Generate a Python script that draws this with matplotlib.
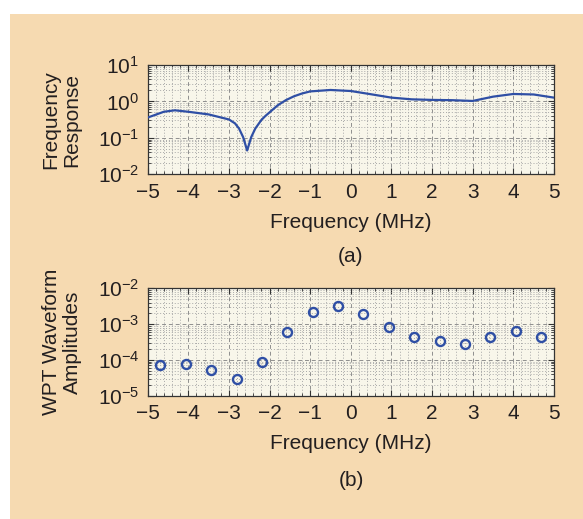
import matplotlib
matplotlib.use("Agg")
import matplotlib.pyplot as plt
import numpy as np
from matplotlib.ticker import LogLocator, MultipleLocator, NullFormatter

plt.rcParams['font.family'] = ['Liberation Sans', 'DejaVu Sans']
plt.rcParams['mathtext.fontset'] = 'custom'
plt.rcParams['mathtext.rm'] = 'Liberation Sans'
plt.rcParams['mathtext.it'] = 'Liberation Sans:italic'
plt.rcParams['axes.unicode_minus'] = True

# Panel (a): frequency response curve
resp_freq = [-5, -4.6, -4.33, -4, -3.5, -3, -2.85, -2.75, -2.65, -2.55, -2.45, -2.35,
             -2.2, -2.1, -2, -1.8, -1.6, -1.4, -1.2, -1, -0.5, 0, 0.5, 1, 1.5, 2, 2.5,
             3, 3.5, 4, 4.5, 5]
resp_val = [0.36, 0.52, 0.57, 0.52, 0.44, 0.32, 0.25, 0.18, 0.105, 0.045, 0.105,
            0.18, 0.31, 0.4, 0.5, 0.78, 1.08, 1.38, 1.65, 1.88, 2.06, 1.93, 1.57, 1.27,
            1.14, 1.1, 1.08, 1.03, 1.35, 1.6, 1.55, 1.27]

# Panel (b): WPT waveform amplitudes
wpt_freq = [-4.6875, -4.0625, -3.4375, -2.8125, -2.1875, -1.5625, -0.9375, -0.3125,
            0.3125, 0.9375, 1.5625, 2.1875, 2.8125, 3.4375, 4.0625, 4.6875]
wpt_amp = [7.2e-5, 7.5e-5, 5.2e-5, 2.9e-5, 8.5e-5, 5.9e-4, 2.14e-3, 3.27e-3,
           1.87e-3, 8.1e-4, 4.35e-4, 3.3e-4, 2.84e-4, 4.35e-4, 6.4e-4, 4.35e-4]

xticks = [-5, -4, -3, -2, -1, 0, 1, 2, 3, 4, 5]
xtick_labels = ['\u22125', '\u22124', '\u22123', '\u22122', '\u22121', '0', '1', '2', '3', '4', '5']

BG = '#F6DAB1'
AXBG = '#F8F6EA'
BLUE = '#2F4FA5'
TXT = '#231F20'
FS = 15

fig = plt.figure(figsize=(5.83, 5.19), dpi=100)
fig.patch.set_facecolor('white')
fig.patches.append(plt.Rectangle((10 / 583, 0), 1, 1 - 14 / 519,
                                 transform=fig.transFigure, facecolor=BG,
                                 edgecolor='none', zorder=-10))

axa = fig.add_axes([0.2532, 0.6642, 0.697, 0.2106])
axb = fig.add_axes([0.2532, 0.2376, 0.697, 0.2069])


def style(ax, ylo, yhi):
    ax.set_facecolor(AXBG)
    ax.set_yscale('log')
    ax.set_xlim(-5, 5)
    ax.set_ylim(ylo, yhi)
    ax.set_xticks(xticks)
    ax.set_xticklabels(xtick_labels)
    ax.xaxis.set_minor_locator(MultipleLocator(0.2))
    ax.yaxis.set_major_locator(LogLocator(base=10, numticks=10))
    ax.yaxis.set_minor_locator(LogLocator(base=10, subs=np.arange(2, 10), numticks=20))
    ax.yaxis.set_minor_formatter(NullFormatter())
    ax.grid(True, which='major', linestyle=(0, (4, 3)), color='#8f8f8f', linewidth=0.7)
    ax.grid(True, which='minor', linestyle=(0, (1, 2)), color='#a8a8a8', linewidth=0.7)
    ax.set_axisbelow(True)
    ax.tick_params(which='both', direction='in', top=True, right=True,
                   labelsize=FS, colors='#333333', labelcolor=TXT)
    ax.tick_params(which='major', length=4, pad=6)
    ax.tick_params(which='minor', length=2)
    for s in ax.spines.values():
        s.set_color('#333333')
        s.set_linewidth(0.9)
    ax.set_xlabel('Frequency (MHz)', fontsize=FS, color=TXT, labelpad=8)


style(axa, 1e-2, 1e1)
axa.plot(resp_freq, resp_val, color=BLUE, linewidth=1.6, zorder=3)

style(axb, 1e-5, 1e-2)
axb.plot(wpt_freq, wpt_amp, linestyle='none', marker='o', markersize=6.5,
         markerfacecolor='none', markeredgecolor=BLUE, markeredgewidth=1.7, zorder=3)

fig.text(61 / 583, 1 - 120 / 519, 'Frequency\nResponse', rotation=90, ha='center',
         va='center', fontsize=FS, color=TXT, linespacing=1.15)
fig.text(62 / 583, 1 - 342 / 519, 'WPT Waveform\nAmplitudes', rotation=90, ha='center',
         va='center', fontsize=FS, color=TXT, linespacing=1.15)

fig.text(351 / 583, 1 - 256 / 519, '(a)', ha='center', va='center', fontsize=FS, color=TXT)
fig.text(351 / 583, 1 - 480 / 519, '(b)', ha='center', va='center', fontsize=FS, color=TXT)

fig.savefig('out.png', dpi=100, facecolor=fig.get_facecolor())
